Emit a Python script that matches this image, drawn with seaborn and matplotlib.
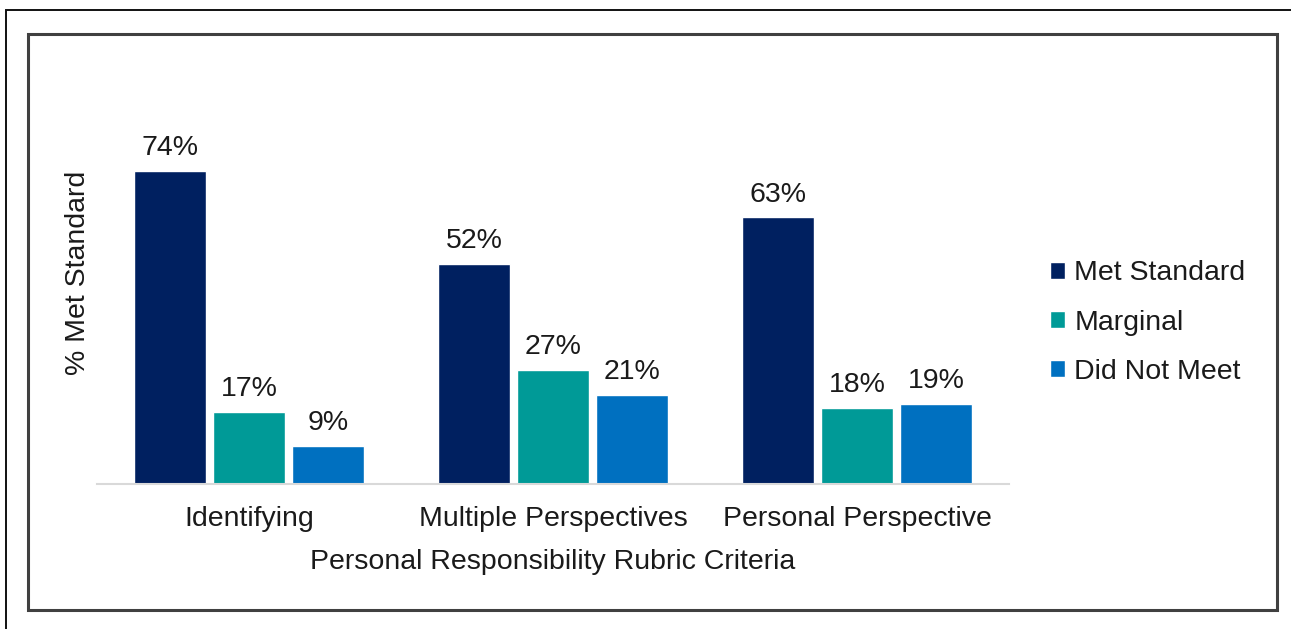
import matplotlib
matplotlib.use("Agg")
import matplotlib.pyplot as plt
from matplotlib.patches import Rectangle
import pandas as pd
import seaborn as sns

# Rubric results
criteria = ["Identifying", "Multiple Perspectives", "Personal Perspective"]
levels = ["Met Standard", "Marginal", "Did Not Meet"]
met_standard = [74, 52, 63]
marginal = [17, 27, 18]
did_not_meet = [9, 21, 19]
level_colors = ["#002060", "#009A97", "#0070C0"]

rows = []
for level, values in zip(levels, [met_standard, marginal, did_not_meet]):
    for crit, v in zip(criteria, values):
        rows.append({"criterion": crit, "level": level, "pct": v})
df = pd.DataFrame(rows)

sns.set_theme(style="white")
plt.rcParams["font.family"] = ["Liberation Sans", "DejaVu Sans"]
FS = 20.5
TXT = "#1a1a1a"

W, H = 1291, 629
fig = plt.figure(figsize=(W / 100, H / 100), dpi=100)
ax = fig.add_axes([97 / W, 1 - 484 / H, (1009 - 97) / W, (484 - 145.3) / H])

sns.barplot(data=df, x="criterion", y="pct", hue="level", order=criteria,
            hue_order=levels, palette=level_colors, width=0.78, gap=0.1,
            saturation=1, ax=ax, legend=True, errorbar=None)

for container in ax.containers:
    ax.bar_label(container, labels=[f"{v:.0f}%" for v in container.datavalues],
                 padding=7, fontsize=FS, color=TXT)

ax.set_xlim(-0.5, 2.5)
ax.set_ylim(0, 80)
ax.set_yticks([])
ax.set_ylabel("% Met Standard", fontsize=FS, color=TXT)
ax.yaxis.set_label_coords(-0.007, 0.623)
ax.set_xlabel("Personal Responsibility Rubric Criteria", fontsize=FS,
              color=TXT, labelpad=12)
ax.tick_params(axis="x", length=0, pad=16, labelsize=FS, labelcolor=TXT)
for side in ["top", "left", "right"]:
    ax.spines[side].set_visible(False)
ax.spines["bottom"].set_color("#d9d9d9")
ax.spines["bottom"].set_linewidth(1.5)

handles, labels = ax.get_legend_handles_labels()
ax.legend_.remove()
fig.legend(handles, labels, loc="center left",
           bbox_to_anchor=(1050 / W, 1 - 322.5 / H), frameon=False,
           fontsize=FS, handlelength=0.53, handleheight=0.53,
           handletextpad=0.32, labelspacing=0.81, borderpad=0,
           borderaxespad=0, labelcolor=TXT)

# Chart frames
fig.patches.append(Rectangle((6 / W, -0.1), 1.2, 1 - 10 / H + 0.1,
                             transform=fig.transFigure, fill=False,
                             edgecolor="#111111", linewidth=1.4))
fig.patches.append(Rectangle((28 / W, 1 - 610 / H), (1277 - 28) / W,
                             (610 - 34) / H, transform=fig.transFigure,
                             fill=False, edgecolor="#404040", linewidth=2.2))

fig.savefig("out.png", dpi=100)
